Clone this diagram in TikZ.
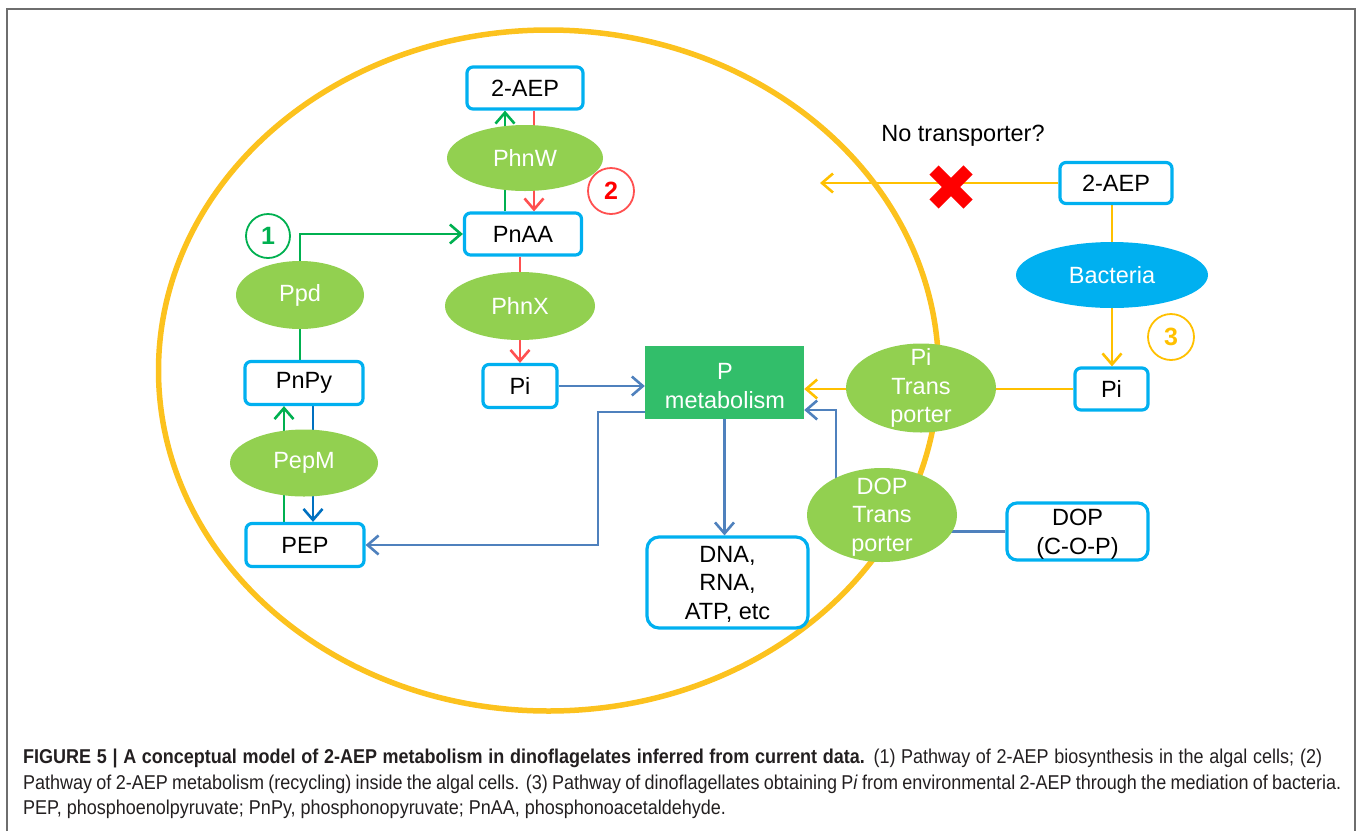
\documentclass[tikz,border=0pt]{standalone}
\usepackage{fontspec}
\setmainfont{Liberation Sans}
\newfontfamily\capfont[FakeStretch=0.9]{Liberation Sans}
\usetikzlibrary{shapes.geometric,arrows.meta}
\definecolor{boxblue}{RGB}{0,176,240}
\definecolor{enzgreen}{RGB}{146,208,80}
\definecolor{pgreen}{RGB}{50,190,106}
\definecolor{agreen}{RGB}{0,176,80}
\definecolor{ared}{RGB}{255,80,80}
\definecolor{numred}{RGB}{255,0,0}
\definecolor{ayellow}{RGB}{255,192,0}
\definecolor{cellyellow}{RGB}{252,194,30}
\definecolor{ablue}{RGB}{79,129,189}
\definecolor{dblue}{RGB}{0,112,192}
\definecolor{framegray}{RGB}{110,110,110}
\definecolor{captext}{RGB}{35,31,32}
\pgfdeclarelayer{bg}
\pgfsetlayers{bg,main}
\tikzset{
  lbl/.style={font=\fontsize{23.5}{28.5}\selectfont, align=center, inner sep=0pt},
  metab/.style={lbl, draw=boxblue, line width=3.2, rounded corners=6, fill=white, text=black},
  enz/.style={ellipse, fill=enzgreen, inner sep=0pt},
  wlbl/.style={lbl, text=white},
  num/.style={circle, draw, line width=1.8, minimum size=46, inner sep=0pt,
              font=\fontsize{25}{27}\selectfont\bfseries},
  conn/.style={line width=2.6, -{Straight Barb[length=11pt,width=19pt]}},
  capline/.style={anchor=west, inner sep=0pt, text=captext,
                  font=\capfont\fontsize{20}{24}\selectfont}
}
\begin{document}
\begin{tikzpicture}[x=1pt,y=-1pt]
\useasboundingbox (0,0) rectangle (1358,831);
% frame
\draw[framegray, line width=2] (7,831) -- (7,9) -- (1355,9) -- (1355,831);
% cell membrane
\draw[cellyellow, line width=5.5] (548.5,370.5) ellipse [x radius=390, y radius=340.5];

% helper coordinates
\coordinate (x505) at (505,0);
\coordinate (x534) at (534,0);
\coordinate (x520) at (520,0);
\coordinate (x284) at (284,0);
\coordinate (x313) at (313,0);
\coordinate (x300) at (300,0);
\coordinate (x1112) at (1112,0);
\coordinate (b1) at (598,412);
\coordinate (b2) at (836,410);
\coordinate (outTip) at (820,183);

% inner metabolites
\node[metab, minimum width=116, minimum height=42] (aepIn) at (525,88) {2-AEP};
\node[metab, minimum width=117, minimum height=42] (pnaa) at (523,234) {PnAA};
\node[metab, minimum width=118, minimum height=43] (pnpy) at (304,383) {PnPy};
\node[metab, minimum width=74, minimum height=43] (piIn) at (520,386) {Pi};
\node[metab, minimum width=118, minimum height=43] (pep) at (305,545) {PEP};
\node[metab, minimum width=161, minimum height=91, rounded corners=12] (dna) at (727.5,582.5) {};
\node[lbl] (dnat) at (727.5,584) {DNA,\\RNA,\\ATP, etc};
\node[fill=pgreen, minimum width=159, minimum height=73, inner sep=0pt] (pmet) at (724.5,382.5) {};
\node[wlbl] (pmett) at (725,386) {P\\metabolism};

% enzymes
\node[enz, minimum width=156, minimum height=66] (phnw) at (525,158) {};
\node[wlbl] at (phnw) {PhnW};
\node[enz, minimum width=128, minimum height=68] (ppd) at (300,295) {};
\node[wlbl] at (ppd) {Ppd};
\node[enz, minimum width=150, minimum height=68] (phnx) at (520,306) {};
\node[wlbl] at (phnx) {PhnX};
\node[enz, minimum width=148, minimum height=67] (pepm) at (304,463) {};
\node[wlbl] at (pepm) {PepM};
\node[enz, minimum width=150, minimum height=89] (pitr) at (921,388) {};
\node[wlbl] at (921,388) {Pi\\Trans\\porter};
\node[enz, minimum width=150, minimum height=94] (doptr) at (882,515) {};
\node[wlbl] at (882,517) {DOP\\Trans\\porter};

% outside
\node[metab, minimum width=112, minimum height=41] (aepOut) at (1116,183) {2-AEP};
\node[ellipse, fill=boxblue, inner sep=0pt, minimum width=192, minimum height=66] (bact) at (1112,275) {};
\node[wlbl] at (bact) {Bacteria};
\node[metab, minimum width=73, minimum height=42] (piOut) at (1111.5,389) {Pi};
\node[metab, minimum width=141, minimum height=57, rounded corners=10] (dop) at (1077.5,531.5) {};
\node[lbl] at (1077.5,534) {DOP\\(C-O-P)};
\node[lbl] (notr) at (963,136) {No transporter?};

% numbered circles
\node[num, draw=agreen, text=agreen, minimum size=44] (c1) at (268,236) {1};
\node[num, draw=ared, text=numred] (c2) at (611,191) {2};
\node[num, draw=ayellow, text=ayellow] (c3) at (1171,337) {3};

% connectors
\begin{pgfonlayer}{bg}
  \draw[conn, agreen] (x505 |- pnaa.north) -- (x505 |- aepIn.south);
  \draw[conn, ared] (x534 |- aepIn.south) -- (x534 |- pnaa.north);
  \draw[conn, ared] (x520 |- pnaa.south) -- (x520 |- piIn.north);
  \draw[conn, agreen] (x300 |- pnpy.north) |- (pnaa.west);
  \draw[conn, agreen] (x284 |- pep.north) -- (x284 |- pnpy.south);
  \draw[conn, dblue] (x313 |- pnpy.south) -- (x313 |- pep.north);
  \draw[conn, ablue] (piIn.east) -- (pmet.west |- piIn.east);
  \draw[conn, ablue] (pmet.west |- b1) -- (b1) |- (pep.east);
  \draw[conn, ablue] (pmet.south) -- (pmet.south |- dna.north);
  \draw[conn, ablue] (dop.west) -| (b2) -- (pmet.east |- b2);
  \draw[conn, ayellow] (piOut.west) -- (pmet.east |- piOut.west);
  \draw[conn, ayellow] (x1112 |- aepOut.south) -- (x1112 |- piOut.north);
  \draw[conn, ayellow] (aepOut.west) -- (outTip);
\end{pgfonlayer}

% red cross
\node[inner sep=0pt, minimum size=45] (cross) at (951,187) {};
\draw[numred, line width=13] ([shift={(-17,-17)}]cross.center) -- ([shift={(17,17)}]cross.center);
\draw[numred, line width=13] ([shift={(-17,17)}]cross.center) -- ([shift={(17,-17)}]cross.center);

% caption
\node[capline] (cap1) at (23,758) {\makebox[1299pt][s]{{\bfseries FIGURE 5 | A conceptual model of 2-AEP metabolism in dinoflagelates inferred from current data.} (1) Pathway of 2-AEP biosynthesis in the algal cells; (2)}};
\node[capline] (cap2) at (23,784) {\makebox[1318pt][s]{Pathway of 2-AEP metabolism (recycling) inside the algal cells. (3) Pathway of dinoflagellates obtaining P\textit{i} from environmental 2-AEP through the mediation of bacteria.}};
\node[capline] (cap3) at (23,809) {PEP, phosphoenolpyruvate; PnPy, phosphonopyruvate; PnAA, phosphonoacetaldehyde.};
\end{tikzpicture}
\end{document}
